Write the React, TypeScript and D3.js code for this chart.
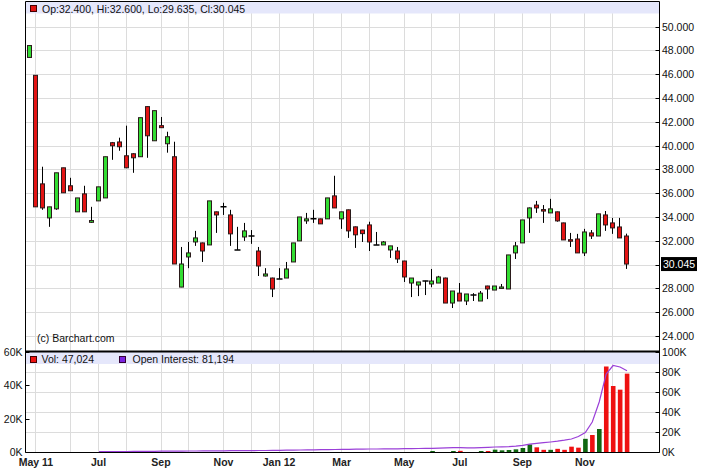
import React from "react";
import * as d3 from "d3";

// weekly bars, first bar is the week of Apr 25 2011
const firstWeek = new Date(2011, 3, 25);

const opens = [
  47.4, 45.9, 36.78, 33.92, 34.68, 38.13, 36.62, 34.43, 35.94, 33.55,
  35.35, 35.6, 40.24, 40.3, 39.14, 39.31, 39.06, 43.27, 40.4, 41.67,
  40.15, 39.06, 28.11, 30.64, 31.9, 31.82, 31.65, 34.43, 34.85, 34.17,
  31.23, 32.32, 32.4, 31.14, 29.04, 28.87, 28.79, 28.87, 30.22, 31.99,
  33.67, 33.84, 33.84, 33.84, 35.77, 33.84, 34.6, 33.17, 32.9, 33.33,
  31.65, 31.65, 31.23, 31.14, 30.3, 28.45, 28.28, 28.62, 28.37, 28.45,
  28.87, 26.77, 27.6, 26.94, 27.44, 26.94, 28.2, 27.86, 28.1, 27.95,
  30.98, 31.82, 33.92, 35.0, 34.62, 34.34, 34.43, 33.5, 32.09, 32.15,
  30.98, 32.66, 32.4, 34.17, 33.5, 33.16, 32.4,
];
const highs = [
  48.4, 45.9, 38.22, 34.85, 37.71, 38.13, 37.29, 35.6, 36.62, 34.85,
  36.53, 39.06, 40.3, 40.66, 41.67, 39.35, 42.34, 43.3, 42.93, 42.4,
  41.16, 40.32, 31.48, 31.9, 32.83, 31.85, 35.35, 34.45, 35.19, 34.6,
  33.17, 33.5, 32.9, 31.48, 29.7, 28.9, 29.7, 30.22, 31.82, 34.0,
  34.34, 34.6, 33.86, 35.6, 37.46, 34.43, 34.62, 33.2, 32.92, 33.6,
  32.74, 31.98, 31.57, 31.48, 30.32, 28.87, 28.54, 28.64, 29.63, 29.05,
  28.9, 27.78, 28.45, 27.53, 27.6, 27.78, 28.22, 28.2, 28.37, 30.81,
  31.9, 33.75, 34.8, 35.35, 35.0, 35.52, 34.45, 33.52, 32.66, 32.58,
  33.0, 32.9, 34.26, 34.5, 33.92, 33.92, 32.6,
];
const lows = [
  47.4, 34.85, 34.6, 33.17, 34.6, 36.03, 36.2, 34.43, 34.43, 33.5,
  35.35, 35.6, 38.8, 39.56, 38.1, 37.71, 39.06, 38.97, 40.4, 41.5,
  39.4, 30.05, 28.1, 29.7, 31.57, 30.22, 31.65, 32.66, 34.17, 31.57,
  31.23, 31.99, 31.74, 29.04, 29.0, 27.27, 28.79, 28.87, 30.22, 31.99,
  33.42, 33.5, 33.42, 33.84, 34.76, 33.0, 32.24, 31.4, 31.9, 31.14,
  31.65, 31.65, 30.56, 30.13, 28.54, 27.27, 27.35, 27.44, 28.1, 28.45,
  26.77, 26.35, 26.94, 26.6, 26.94, 26.94, 27.1, 27.86, 27.95, 27.95,
  30.47, 31.82, 32.66, 34.34, 33.5, 34.34, 33.6, 32.07, 31.48, 30.98,
  30.72, 32.15, 32.4, 32.83, 32.58, 32.24, 29.635,
];
const closes = [
  48.4, 34.85, 34.76, 34.85, 37.71, 36.03, 36.2, 35.6, 34.43, 33.7,
  36.53, 39.06, 39.98, 39.9, 38.13, 38.97, 42.34, 40.82, 42.93, 41.5,
  40.74, 30.05, 30.05, 30.98, 32.24, 31.14, 35.35, 34.17, 34.85, 32.58,
  31.23, 32.83, 32.4, 29.88, 29.21, 27.95, 28.79, 29.63, 31.82, 34.0,
  33.84, 33.84, 33.42, 35.6, 34.76, 34.43, 32.83, 32.5, 32.6, 31.9,
  31.65, 31.9, 31.57, 30.47, 28.96, 28.87, 28.54, 28.62, 28.62, 28.96,
  26.77, 27.78, 26.94, 27.53, 27.44, 27.6, 27.95, 28.2, 28.12, 30.81,
  31.57, 33.75, 34.76, 34.76, 34.6, 34.68, 33.67, 32.07, 32.07, 30.98,
  32.74, 32.4, 34.26, 33.33, 33.08, 32.24, 30.045,
];

const volumes = [
  0, 0, 0, 0, 0, 0, 0, 0, 0, 0,
  0, 0, 0, 0, 0, 0, 0, 0, 0, 0,
  0, 0, 0, 0, 0, 0, 0, 0, 0, 0,
  0, 0, 0, 0, 0, 0, 0, 0, 0, 0,
  0, 0, 0, 0, 0, 0, 0, 0, 0, 0,
  0, 0, 0, 0, 0, 0, 0, 0, 600, 0,
  0, 600, 700, 0, 0, 600, 600, 1400, 1000, 1200,
  1600, 2400, 4500, 2800, 1300, 1300, 1900, 1300, 3200, 2600,
  7900, 10200, 13800, 51300, 39600, 37400, 47024,
];

const openInterest = [
  null, null, null, null, null, null, null, null, null, null,
  300, 350, 400, 450, 500, 600, 600, 700, 700, 800,
  800, 900, 900, 1000, 1000, 1100, 1100, 1200, 1200, 1300,
  1300, 1400, 1400, 1500, 1500, 1600, 1700, 1800, 1900, 2000,
  2100, 2200, 2300, 2400, 2500, 2600, 2700, 2800, 2900, 3000,
  3000, 3100, 3100, 3200, 3300, 3400, 3500, 3600, 3700, 3900,
  4100, 4300, 4300, 4200, 4200, 4400, 4700, 5000, 5200, 5400,
  5800, 6600, 7800, 8600, 9300, 10000, 10800, 11800, 13000, 15500,
  19500, 30000, 50000, 78000, 86500, 85000, 81194,
];

const priceTicks = [24, 26, 28, 30, 32, 34, 36, 38, 40, 42, 44, 46, 48, 50];
const volTicksLeft = [0, 20000, 40000, 60000];
const volTicksRight = [0, 20000, 40000, 60000, 80000, 100000];
const xTickLabels = ["May 11", "Jul", "Sep", "Nov", "Jan 12", "Mar", "May", "Jul", "Sep", "Nov"];

const FONT = "'Liberation Sans', Arial, sans-serif";
const BAND = "#e5e7fb";
const GRID = "#dcdcdc";
const UP = "#33dd33";
const DOWN = "#e31414";
const VOL_UP = "#116611";
const VOL_DOWN = "#ee1111";
const OI_COLOR = "#9a3fd8";

const left = 25.5;
const right = 659.5;
const top = 1.5;
const mainBottom = 351.5;
const volBottom = 452.5;

export default function App() {
  const dates = opens.map((_, i) => d3.timeDay.offset(firstWeek, i * 7));
  const x = d3
    .scaleTime()
    .domain([dates[0], dates[dates.length - 1]])
    .range([28.5, 626]);
  const y = d3.scaleLinear().domain([24, 50]).range([336, 26.5]);
  const yVol = d3.scaleLinear().domain([0, 60000]).range([452, 352]);
  const yOI = d3.scaleLinear().domain([0, 100000]).range([452, 352]);

  // first bar of each month -> vertical grid line
  const monthStarts = dates
    .map((d, i) => i)
    .filter((i) => i > 0 && dates[i].getMonth() !== dates[i - 1].getMonth());
  const labelled = monthStarts.filter((i) => dates[i].getMonth() % 2 === 0);

  const fmtPrice = d3.format(".3f");
  const fmtK = (v: number) => `${v / 1000}K`;

  const oiLine = d3
    .line<number | null>()
    .defined((d) => d !== null)
    .x((_, i) => x(dates[i]) + 1)
    .y((d) => yOI(d as number));

  const lastClose = closes[closes.length - 1];

  return (
    <svg
      width={706}
      height={475}
      style={{ position: "absolute", left: 0, top: 0, background: "#fff" }}
      fontFamily={FONT}
    >
      <defs>
        <clipPath id="mainClip">
          <rect x={left} y={top} width={right - left} height={mainBottom - top} />
        </clipPath>
      </defs>

      {/* grid */}
      {priceTicks.map((t) => (
        <line key={"pg" + t} x1={left} x2={right} y1={Math.round(y(t)) + 0.5} y2={Math.round(y(t)) + 0.5} stroke={GRID} />
      ))}
      {volTicksRight.slice(1, -1).map((t) => (
        <line key={"vg" + t} x1={left} x2={right} y1={Math.round(yOI(t)) + 0.5} y2={Math.round(yOI(t)) + 0.5} stroke={GRID} />
      ))}
      {monthStarts.map((i) => {
        const gx = Math.round(x(dates[i])) + 0.5;
        return (
          <g key={"mg" + i}>
            <line x1={gx} x2={gx} y1={top} y2={mainBottom} stroke={GRID} />
            <line x1={gx} x2={gx} y1={mainBottom} y2={volBottom} stroke={GRID} />
          </g>
        );
      })}

      {/* legend bands */}
      <rect x={left} y={top} width={right - left} height={12} fill={BAND} />
      <rect x={left} y={mainBottom} width={right - left} height={12.5} fill={BAND} />

      {/* candles */}
      <g clipPath="url(#mainClip)">
        {opens.map((o, i) => {
          const c = closes[i];
          const cx = Math.round(x(dates[i]));
          const yt = y(Math.max(o, c));
          const yb = y(Math.min(o, c));
          const doji = Math.abs(o - c) < 0.005;
          return (
            <g key={"c" + i}>
              <line x1={cx + 0.5} x2={cx + 0.5} y1={y(highs[i])} y2={y(lows[i])} stroke="#000" strokeWidth={1} />
              {doji ? (
                <line x1={cx - 2.5} x2={cx + 3.5} y1={yt} y2={yt} stroke="#000" strokeWidth={1.5} />
              ) : (
                <rect
                  x={cx - 1.5}
                  y={yt}
                  width={4}
                  height={Math.max(1.5, yb - yt)}
                  fill={c > o ? UP : DOWN}
                  stroke="#2a1a1a"
                  strokeWidth={1}
                />
              )}
            </g>
          );
        })}
      </g>

      {/* volume bars */}
      {volumes.map((v, i) =>
        v > 0 ? (
          <rect
            key={"v" + i}
            x={x(dates[i]) - 1.2}
            y={yVol(v)}
            width={4.6}
            height={yVol(0) - yVol(v)}
            fill={closes[i] >= opens[i] ? VOL_UP : VOL_DOWN}
          />
        ) : null
      )}

      {/* open interest */}
      <path d={oiLine(openInterest) || ""} fill="none" stroke={OI_COLOR} strokeWidth={1.2} />

      {/* frame */}
      <line x1={left} x2={right} y1={top} y2={top} stroke="#000" />
      <line x1={left} x2={left} y1={top} y2={volBottom} stroke="#000" />
      <line x1={right} x2={right} y1={top} y2={volBottom} stroke="#000" />
      <line x1={left} x2={right} y1={mainBottom} y2={mainBottom} stroke="#000" strokeWidth={2} />
      <line x1={left} x2={right} y1={volBottom} y2={volBottom} stroke="#000" />

      {/* price axis */}
      {priceTicks.map((t) => (
        <g key={"pt" + t}>
          <line x1={right - 4} x2={right} y1={Math.round(y(t)) + 0.5} y2={Math.round(y(t)) + 0.5} stroke="#000" />
          <text x={662} y={y(t) + 4} fontSize={10.5} fill="#111">
            {fmtPrice(t)}
          </text>
        </g>
      ))}
      <rect x={661} y={y(lastClose) - 7} width={36} height={14} fill="#000" />
      <text x={663} y={y(lastClose) + 4} fontSize={10.5} fill="#fff">
        {fmtPrice(lastClose)}
      </text>

      {/* volume axes */}
      {volTicksLeft.map((t) => (
        <g key={"vl" + t}>
          <line x1={left} x2={left + 4} y1={Math.round(yVol(t)) + 0.5} y2={Math.round(yVol(t)) + 0.5} stroke="#000" />
          <text x={22.5} y={yVol(t) + 4} fontSize={10.5} fill="#111" textAnchor="end">
            {fmtK(t)}
          </text>
        </g>
      ))}
      {volTicksRight.map((t) => (
        <g key={"vr" + t}>
          <line x1={right - 4} x2={right} y1={Math.round(yOI(t)) + 0.5} y2={Math.round(yOI(t)) + 0.5} stroke="#000" />
          <text x={662} y={yOI(t) + 4} fontSize={10.5} fill="#111">
            {fmtK(t)}
          </text>
        </g>
      ))}

      {/* x axis labels */}
      {labelled.map((i, k) => (
        <text key={"xl" + i} x={x(dates[i]) + 0.5} y={466} fontSize={10.5} fontWeight="bold" fill="#222" textAnchor="middle">
          {xTickLabels[k]}
        </text>
      ))}

      {/* legends */}
      <rect x={30.5} y={5.5} width={6} height={6} fill={DOWN} stroke="#400" />
      <text x={42} y={12.5} fontSize={10.5} fill="#111">
        {`Op:${fmtPrice(opens[opens.length - 1])}, Hi:${fmtPrice(highs[highs.length - 1])}, Lo:${fmtPrice(lows[lows.length - 1])}, Cl:${fmtPrice(lastClose)}`}
      </text>
      <rect x={30.5} y={356.5} width={6} height={6} fill={VOL_DOWN} stroke="#400" />
      <text x={41.5} y={363} fontSize={10.5} fill="#111">
        {`Vol: ${d3.format(",")(volumes[volumes.length - 1])}`}
      </text>
      <rect x={119.5} y={356.5} width={6} height={6} fill="#7a22e0" stroke="#303" />
      <text x={132.5} y={363} fontSize={10.5} fill="#111">
        {`Open Interest: ${d3.format(",")(openInterest[openInterest.length - 1] as number)}`}
      </text>

      <text x={37} y={342} fontSize={10.5} fill="#111">
        (c) Barchart.com
      </text>
    </svg>
  );
}
